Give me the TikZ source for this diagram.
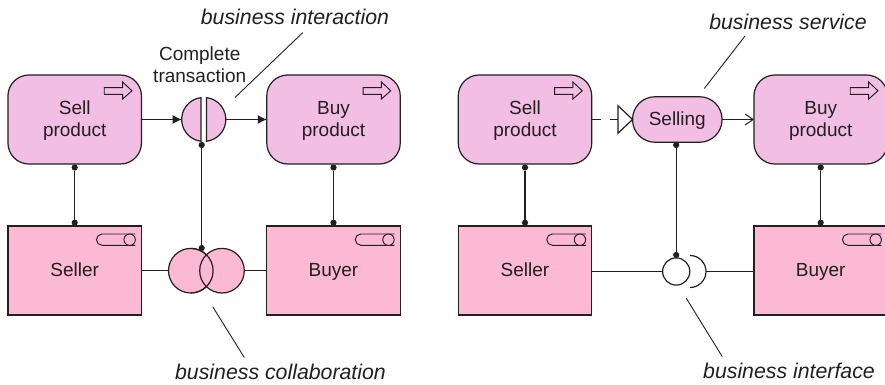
\documentclass[tikz,border=0pt]{standalone}
\usepackage{fontspec}
\setmainfont{Liberation Sans}
\usetikzlibrary{arrows.meta,positioning,calc}
\definecolor{proc}{HTML}{F2BEE3}
\definecolor{actor}{HTML}{FBB9D3}
\definecolor{ink}{HTML}{231F20}
\tikzset{
  x=1pt,y=-1pt,
  every node/.style={inner sep=0pt,outer sep=0pt,text=ink,align=center,font=\fontsize{19}{22}\selectfont},
  procbox/.style={draw=ink,fill=proc,rounded corners=21pt,minimum width=133.5pt,minimum height=89pt,line width=1.2pt,text height=36pt,text depth=1.6pt},
  actorbox/.style={draw=ink,fill=actor,minimum width=133.5pt,minimum height=89pt,line width=1.2pt,text height=14pt,text depth=3pt},
  servbox/.style={draw=ink,fill=proc,rounded corners=22.5pt,minimum width=89.5pt,minimum height=45.5pt,line width=1.2pt,text height=14pt,text depth=2pt},
  ghost/.style={circle,minimum size=#1},
  note/.style={font=\fontsize{21.3}{24}\selectfont\itshape},
  wire/.style={draw=ink,line width=1.2pt},
  leader/.style={draw=ink,line width=0.9pt},
  dot/.style={fill=ink,draw=none,circle,minimum size=6.2pt},
  solidtip/.style={-{Latex[length=9pt,width=9pt]}},
  opentip/.style={-{Straight Barb[length=8pt,width=11pt,line width=1pt]}},
  procicon/.pic={
    \path[wire,fill=proc,line width=0.95pt] (-37.2,12.7)--(-18.8,12.7)--(-18.8,7)--(-9.5,15.8)--(-18.8,24)--(-18.8,19.3)--(-37.2,19.3)--cycle;
  },
  actoricon/.pic={
    \path[wire,fill=actor,line width=0.95pt,rounded corners=5.6pt] (-6,8)--(-45,8)--(-45,19.3)--(-6,19.3);
    \path[wire,fill=actor,line width=0.95pt] (-11.8,13.7) circle[radius=5.7];
  },
}
\begin{document}
\begin{tikzpicture}
\useasboundingbox (0,0) rectangle (885,385);
% left panel
\node[procbox] (sell1) at (74.7,119.5) {Sell\\product};
\node[procbox] (buy1) at (333.5,119.5) {Buy\\product};
\node[actorbox] (seller1) at (74.7,270.5) {Seller};
\node[actorbox] (buyer1) at (333.5,270.5) {Buyer};
\pic at (sell1.north east) {procicon};
\pic at (buy1.north east) {procicon};
\pic at (seller1.north east) {actoricon};
\pic at (buyer1.north east) {actoricon};
\node[ghost=44pt] (inter) at (203.7,119.5) {};
\path[wire,fill=proc] (201,97.6) arc[start angle=-97,end angle=-263,radius=22] -- cycle;
\path[wire,fill=proc] (206.5,97.6) arc[start angle=-83,end angle=83,radius=22] -- cycle;
\node[above=14.5pt of inter.north,xshift=-4pt] (ctlabel) {Complete\\transaction};
\draw[wire,solidtip] (sell1.east) -- (inter.west);
\draw[wire,solidtip] (inter.east) -- (buy1.west);
\node[ghost=44.6pt] (colA) at (190.8,270.7) {};
\node[ghost=44.6pt] (colB) at (222,270.7) {};
\path[wire,fill=actor] (colA) circle[radius=22.3];
\path[wire,fill=actor] (colB) circle[radius=22.3];
\path[wire] (190.8,248.4) arc[start angle=-90,end angle=90,radius=22.3];
\draw[wire] (colA.west -| seller1.east) -- (colA.west);
\draw[wire] (colB.east) -- (colB.east -| buyer1.west);
\node[dot] (d1a) at (74.7,167.5) {};
\node[dot] (d1b) at (74.7,222.7) {};
\draw[wire] (d1a) -- (d1b);
\node[dot] (d2a) at (333.5,167.5) {};
\node[dot] (d2b) at (333.5,222.7) {};
\draw[wire] (d2a) -- (d2b);
\node[dot] (d3a) at (201.7,145) {};
\node[dot] (d3b) at (201.7,248) {};
\draw[wire] (d3a) -- (d3b);
% right panel
\node[procbox] (sell2) at (525,119.5) {Sell\\product};
\node[procbox] (buy2) at (820.7,119.5) {Buy\\product};
\node[actorbox] (seller2) at (525,270.5) {Seller};
\node[actorbox] (buyer2) at (820.7,270.5) {Buyer};
\pic at (sell2.north east) {procicon};
\pic at (buy2.north east) {procicon};
\pic at (seller2.north east) {actoricon};
\pic at (buyer2.north east) {actoricon};
\node[servbox] (serv) at (677.3,119.5) {Selling};
\coordinate (tri) at (618,119.5);
\path[wire,fill=white,line join=miter] (618,105.7) -- (serv.west) -- (618,133.2) -- cycle;
\draw[wire,dash pattern=on 9pt off 9.5pt] (sell2.east) -- (tri);
\draw[wire,opentip] (serv.east) -- (buy2.west);
\node[dot] (d4a) at (525,167.5) {};
\node[dot] (d4b) at (525,222.7) {};
\draw[wire] (d4a) -- (d4b);
\node[dot] (d5a) at (820.7,167.5) {};
\node[dot] (d5b) at (820.7,222.7) {};
\draw[wire] (d5a) -- (d5b);
\node[dot] (d6a) at (676.2,145) {};
\node[dot] (d6b) at (676.2,255) {};
\draw[wire] (d6a) -- (d6b);
\node[circle,draw=ink,fill=white,minimum size=27.2pt,line width=1.2pt] (iface) at (676.2,271.5) {};
\coordinate (sock) at (705.7,271.5);
\path[wire] (690,255.5) arc[start angle=-90,end angle=90,radius=16];
\draw[wire] (iface.west -| seller2.east) -- (iface.west);
\draw[wire] (sock) -- (sock -| buyer2.west);
% annotations
\node[note] (n1) at (295,17) {business interaction};
\node[note] (n2) at (280.5,372) {business collaboration};
\node[note] (n3) at (788,22) {business service};
\node[note] (n4) at (789,371) {business interface};
\coordinate (l1) at (235,97.5);
\coordinate (l2) at (212.7,306.7);
\coordinate (l3) at (704.3,88.5);
\coordinate (l4) at (686.3,298.3);
\coordinate (e1) at (302.7,32.7);
\coordinate (e2) at (244.3,357.5);
\coordinate (e3) at (745,36);
\coordinate (e4) at (722.3,356.7);
\draw[leader] (l1) -- (e1);
\draw[leader] (l2) -- (e2);
\draw[leader] (l3) -- (e3);
\draw[leader] (l4) -- (e4);
\end{tikzpicture}
\end{document}
